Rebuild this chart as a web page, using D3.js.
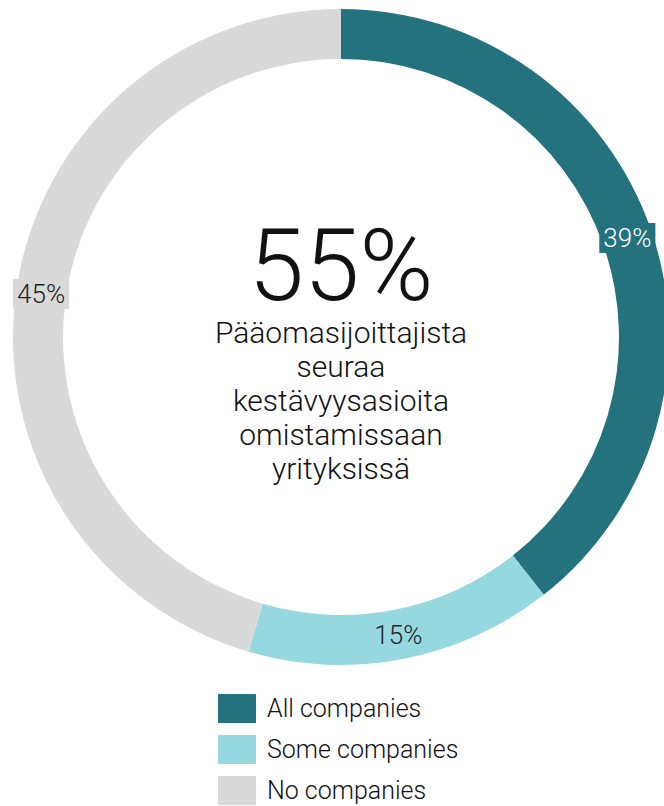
<!DOCTYPE html>
<html lang="fi">
<head>
<meta charset="UTF-8">
<title>Pääomasijoittajat ja kestävyys</title>
<script src="https://d3js.org/d3.v7.min.js"></script>
<style>
  html, body { margin: 0; padding: 0; background: white; overflow: hidden; }
  svg { display: block; font-family: Roboto, "Liberation Sans", Arial, sans-serif; }
</style>
</head>
<body>
<svg id="chart" width="664" height="806"></svg>
<script>
const categories = ["All companies", "Some companies", "No companies"];
const values = [39, 15, 45];
const labels = ["39%", "15%", "45%"];
const colors = ["#23727D", "#95D8E0", "#D9D9D9"];
const bigNumber = "55%";
const centerLines = ["Pääomasijoittajista", "seuraa", "kestävyysasioita", "omistamissaan", "yrityksissä"];

const svg = d3.select("#chart");
const cx = 341, cy = 337;
const outerR = 328, innerR = 278;

const pie = d3.pie().sort(null).value(d => d);
const arc = d3.arc().innerRadius(innerR).outerRadius(outerR);
const arcs = pie(values);

const g = svg.append("g").attr("transform", `translate(${cx},${cy})`);

g.selectAll("path.slice")
  .data(arcs)
  .enter()
  .append("path")
  .attr("class", "slice")
  .attr("d", arc)
  .attr("fill", (d, i) => colors[i]);

// labels on slices, with a small box behind
const lab = g.selectAll("g.lab")
  .data(arcs)
  .enter()
  .append("g")
  .attr("class", "lab")
  .attr("transform", d => `translate(${arc.centroid(d)})`);

lab.append("rect");
lab.append("text")
  .attr("text-anchor", "middle")
  .attr("dy", "0.35em")
  .style("font-size", "26px")
  .style("font-weight", 300)
  .attr("fill", (d, i) => i === 0 ? "#ffffff" : "#222222")
  .text((d, i) => labels[i]);

lab.each(function(d, i) {
  const grp = d3.select(this);
  const bb = grp.select("text").node().getBBox();
  grp.select("rect")
    .attr("x", bb.x - 4)
    .attr("y", bb.y)
    .attr("width", bb.width + 8)
    .attr("height", bb.height)
    .attr("fill", colors[i]);
});

// center text
g.append("text")
  .attr("text-anchor", "middle")
  .attr("y", -37)
  .style("font-size", "100px")
  .style("font-weight", 300)
  .attr("fill", "#111")
  .text(bigNumber);

g.selectAll("text.sub")
  .data(centerLines)
  .enter()
  .append("text")
  .attr("class", "sub")
  .attr("text-anchor", "middle")
  .attr("y", (d, i) => 6 + i * 34)
  .style("font-size", "30px")
  .style("font-weight", 300)
  .attr("fill", "#111")
  .text(d => d);

// legend
const y = d3.scaleBand().domain(categories).range([694, 805]).paddingInner(0.293);
const legend = svg.selectAll("g.leg")
  .data(categories)
  .enter()
  .append("g")
  .attr("class", "leg")
  .attr("transform", d => `translate(218,${y(d)})`);

legend.append("rect")
  .attr("width", 38)
  .attr("height", y.bandwidth())
  .attr("fill", (d, i) => colors[i]);

legend.append("text")
  .attr("x", 49)
  .attr("y", y.bandwidth() / 2)
  .attr("dy", "0.35em")
  .style("font-size", "25px")
  .style("font-weight", 300)
  .attr("fill", "#111")
  .text(d => d);
</script>
</body>
</html>
